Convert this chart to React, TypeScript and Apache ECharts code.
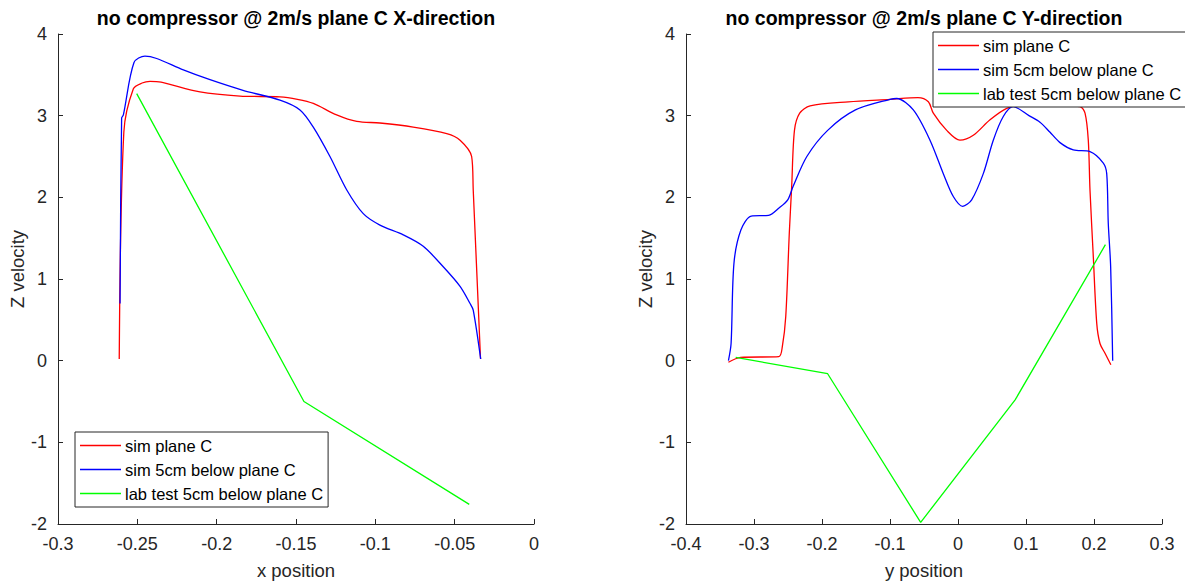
import React, { useEffect, useRef } from "react";
import * as echarts from "echarts";

// ---- data ----
const seriesNames = ["sim plane C", "sim 5cm below plane C", "lab test 5cm below plane C"];
const seriesColors = ["#ff0000", "#0000ff", "#00ff00"];

const xTitle = "no compressor @ 2m/s plane C X-direction";
const yTitle = "no compressor @ 2m/s plane C Y-direction";

// X-direction panel
const xSimPlaneC: [number, number][] = [
  [-0.2614, 0.02], [-0.2585, 2.8], [-0.2525, 3.33], [-0.247, 3.4], [-0.242, 3.42], [-0.235, 3.41],
  [-0.2105, 3.29], [-0.1853, 3.24], [-0.1601, 3.23], [-0.1491, 3.2], [-0.1391, 3.15], [-0.1244, 3.01],
  [-0.1117, 2.93], [-0.0971, 2.91], [-0.0761, 2.86], [-0.055, 2.78], [-0.0466, 2.7], [-0.0393, 2.5],
  [-0.0383, 2.09], [-0.0337, 0.02],
];
const xSim5cm: [number, number][] = [
  [-0.2609, 0.7], [-0.2599, 2.97], [-0.2588, 3.01], [-0.2521, 3.65], [-0.2452, 3.73], [-0.2378, 3.7],
  [-0.221, 3.56], [-0.2042, 3.44], [-0.1834, 3.31], [-0.1601, 3.19], [-0.1475, 3.07], [-0.1391, 2.86],
  [-0.1286, 2.5], [-0.118, 2.09], [-0.1076, 1.8], [-0.0971, 1.66], [-0.0824, 1.54], [-0.0698, 1.4],
  [-0.0572, 1.15], [-0.0466, 0.91], [-0.0403, 0.7], [-0.0383, 0.62], [-0.0336, 0.02],
];
const xLab5cm: [number, number][] = [
  [-0.2504, 3.27], [-0.145, -0.5], [-0.0408, -1.76],
];

// Y-direction panel
const ySimPlaneC: [number, number][] = [
  [-0.3376, -0.02], [-0.3197, 0.04], [-0.2635, 0.05], [-0.2584, 0.17], [-0.2533, 0.54], [-0.2481, 1.56],
  [-0.2446, 2.13], [-0.2405, 2.82], [-0.2328, 3.03], [-0.2175, 3.12], [-0.1612, 3.17], [-0.0999, 3.2],
  [-0.0589, 3.22], [-0.0436, 3.17], [-0.0363, 3.03], [-0.0166, 2.82], [0.0029, 2.7], [0.0225, 2.76],
  [0.0471, 2.95], [0.0716, 3.09], [0.0944, 3.13], [0.1456, 3.12], [0.1794, 3.11], [0.1868, 3.03],
  [0.1916, 2.7], [0.1941, 2.09], [0.199, 1.27], [0.204, 0.46], [0.2088, 0.21], [0.2162, 0.09],
  [0.2248, -0.05],
];
const ySim5cm: [number, number][] = [
  [-0.3376, 0.0], [-0.3337, 0.21], [-0.3295, 1.19], [-0.3193, 1.6], [-0.304, 1.77], [-0.2785, 1.78],
  [-0.2632, 1.87], [-0.2504, 1.97], [-0.2427, 2.13], [-0.2223, 2.5], [-0.1917, 2.82], [-0.1508, 3.07],
  [-0.0999, 3.2], [-0.0901, 3.21], [-0.0657, 3.07], [-0.0412, 2.7], [-0.0216, 2.29], [-0.0069, 2.01],
  [0.0069, 1.89], [0.0201, 1.97], [0.0372, 2.29], [0.0519, 2.7], [0.0666, 2.99], [0.0813, 3.11],
  [0.1044, 3.0], [0.1206, 2.92], [0.135, 2.8], [0.15, 2.67], [0.1696, 2.58], [0.1941, 2.56],
  [0.2137, 2.42], [0.2187, 2.29], [0.221, 1.68], [0.2245, 1.15], [0.2275, 0.0],
];
const yLab5cm: [number, number][] = [
  [-0.3269, 0.04], [-0.1917, -0.16], [-0.0549, -1.98], [0.084, -0.48], [0.2168, 1.42],
];

const FONT = "'Liberation Sans', Arial, Helvetica, sans-serif";
const INK = "#262626";

export default function App() {
  const ref = useRef<HTMLDivElement>(null);

  useEffect(() => {
    if (!ref.current) return;
    const chart = echarts.init(ref.current, null, { renderer: "svg" });

    const axisCommon = {
      axisLine: { show: true, onZero: false, lineStyle: { color: INK, width: 1 } },
      axisTick: { show: true, inside: true, length: 5, lineStyle: { color: INK } },
      axisLabel: { color: INK, fontSize: 18, fontFamily: FONT, margin: 11 },
      splitLine: { show: false },
      nameLocation: "middle" as const,
    };

    const legendCommon = {
      orient: "vertical" as const,
      data: seriesNames,
      icon: "rect",
      itemWidth: 41,
      itemHeight: 1.5,
      itemGap: 7,
      padding: [5, 5, 5, 5],
      backgroundColor: "#ffffff",
      borderColor: INK,
      borderWidth: 1,
      borderRadius: 0,
      selectedMode: false,
      textStyle: { color: "#000", fontSize: 16.5, fontFamily: FONT, padding: [0, 0, 0, -1] },
    };

    const lineSeries = (name: string, color: string, data: [number, number][], idx: number, smooth: number | boolean) => ({
      name,
      type: "line",
      xAxisIndex: idx,
      yAxisIndex: idx,
      data,
      showSymbol: false,
      symbol: "none",
      smooth,
      lineStyle: { color, width: 1.3 },
      itemStyle: { color },
      emphasis: { disabled: true },
    });

    const titleStyle = { color: "#000", fontSize: 19.5, fontWeight: "bold", fontFamily: FONT };

    chart.setOption({
      animation: false,
      backgroundColor: "#ffffff",
      title: [
        { text: xTitle, left: 296, top: 8, textAlign: "center", padding: 0, textStyle: titleStyle },
        { text: yTitle, left: 924, top: 8, textAlign: "center", padding: 0, textStyle: titleStyle },
      ],
      grid: [
        { left: 58, top: 34, width: 476, height: 490, containLabel: false },
        { left: 686, top: 34, width: 476, height: 490, containLabel: false },
      ],
      xAxis: [
        {
          ...axisCommon, type: "value", gridIndex: 0, min: -0.3, max: 0, interval: 0.05,
          name: "x position", nameGap: 37, nameTextStyle: { color: INK, fontSize: 18.5, fontFamily: FONT },
        },
        {
          ...axisCommon, type: "value", gridIndex: 1, min: -0.4, max: 0.3, interval: 0.1,
          name: "y position", nameGap: 37, nameTextStyle: { color: INK, fontSize: 18.5, fontFamily: FONT },
        },
      ],
      yAxis: [
        {
          ...axisCommon, type: "value", gridIndex: 0, min: -2, max: 4, interval: 1,
          name: "Z velocity", nameGap: 19,
          nameTextStyle: { color: INK, fontSize: 18.5, fontFamily: FONT, padding: [0, 0, 0, 20] },
        },
        {
          ...axisCommon, type: "value", gridIndex: 1, min: -2, max: 4, interval: 1,
          name: "Z velocity", nameGap: 19,
          nameTextStyle: { color: INK, fontSize: 18.5, fontFamily: FONT, padding: [0, 0, 0, 20] },
        },
      ],
      legend: [
        { ...legendCommon, left: 75, top: 432 },
        { ...legendCommon, left: 933, top: 32 },
      ],
      series: [
        lineSeries(seriesNames[0], seriesColors[0], xSimPlaneC, 0, 0.3),
        lineSeries(seriesNames[1], seriesColors[1], xSim5cm, 0, 0.3),
        lineSeries(seriesNames[2], seriesColors[2], xLab5cm, 0, false),
        lineSeries(seriesNames[0], seriesColors[0], ySimPlaneC, 1, 0.3),
        lineSeries(seriesNames[1], seriesColors[1], ySim5cm, 1, 0.3),
        lineSeries(seriesNames[2], seriesColors[2], yLab5cm, 1, false),
      ],
    });

    return () => chart.dispose();
  }, []);

  return (
    <div
      ref={ref}
      style={{ position: "fixed", left: 0, top: 0, width: 1185, height: 585, background: "#fff" }}
    />
  );
}
